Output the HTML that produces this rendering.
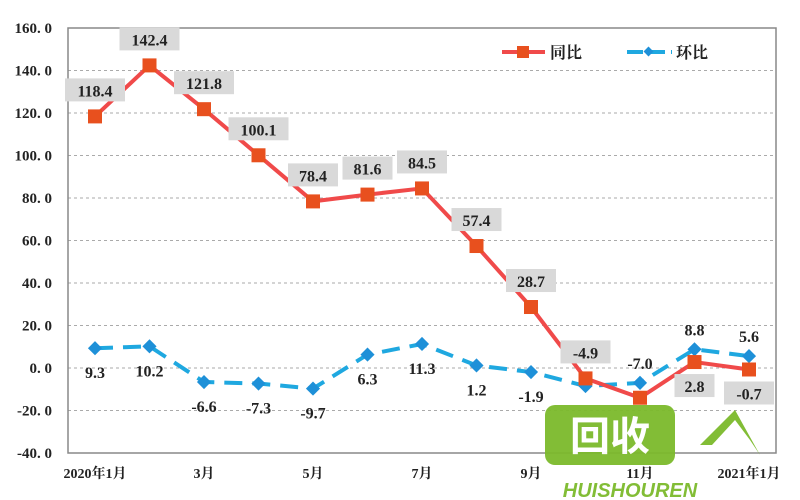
<!DOCTYPE html>
<html><head><meta charset="utf-8"><style>
body{margin:0;background:#fff}
svg{display:block;font-family:"Liberation Serif","Noto Serif CJK SC",serif}
</style></head><body>
<svg id="c" width="800" height="500"></svg>
<script>
const categories=["2020年1月","2月","3月","4月","5月","6月","7月","8月","9月","10月","11月","12月","2021年1月"];
const shownLabels=["2020年1月","","3月","","5月","","7月","","9月","","11月","","2021年1月"];
const yoy=[118.4,142.4,121.8,100.1,78.4,81.6,84.5,57.4,28.7,-4.9,-14.0,2.8,-0.7];
const yoyLabels=["118.4","142.4","121.8","100.1","78.4","81.6","84.5","57.4","28.7","-4.9","","2.8","-0.7"];
const mom=[9.3,10.2,-6.6,-7.3,-9.7,6.3,11.3,1.2,-1.9,-8.5,-7.0,8.8,5.6];
const momLabels=["9.3","10.2","-6.6","-7.3","-9.7","6.3","11.3","1.2","-1.9","","-7.0","8.8","5.6"];
const yTicks=[160,140,120,100,80,60,40,20,0,-20,-40];
const NS="http://www.w3.org/2000/svg";
const svg=document.getElementById('c');
const L=68,R=776,T=28,B=453;
const y=v=>B-(v+40)/200*(B-T);
const x=i=>95+i*54.5;
function mk(t,a,p){const e=document.createElementNS(NS,t);for(const k in a)e.setAttribute(k,a[k]);(p||svg).appendChild(e);return e;}
yTicks.forEach(v=>{
  if(v!==-40&&v!==160){const g=mk('line',{x1:L,x2:R,y1:y(v),y2:y(v),stroke:'#aaa','stroke-dasharray':'3,3','stroke-width':1});
  
  }
  const t=mk('text',{x:52,y:y(v)+5,'text-anchor':'end','font-size':15,'font-weight':'bold',fill:'#222'});t.textContent=v.toFixed(1).replace('.','. ');
  
  
});
const f=mk('rect',{x:L,y:T,width:R-L,height:B-T,fill:'none',stroke:'#888','stroke-width':1.5});


categories.forEach((c,i)=>{if(!shownLabels[i])return;
  const t=mk('text',{x:x(i),y:478,'text-anchor':'middle','font-size':14,'font-weight':'bold',fill:'#222'});t.textContent=shownLabels[i];
  
  });
const pm=mom.map((v,i)=>x(i)+','+y(v)).join(' ');
const l2=mk('polyline',{points:pm,fill:'none',stroke:'#1fa8e0','stroke-width':4,'stroke-dasharray':'18,10'});


const py=yoy.map((v,i)=>x(i)+','+y(v)).join(' ');
const l1=mk('polyline',{points:py,fill:'none',stroke:'#f04a4a','stroke-width':4});


mom.forEach((v,i)=>{const p=mk('rect',{x:x(i)-5,y:y(v)-5,width:10,height:10,fill:'#1e90d8',transform:`rotate(45 ${x(i)} ${y(v)})`});
  
  });
yoy.forEach((v,i)=>{const p=mk('rect',{x:x(i)-7,y:y(v)-7,width:14,height:14,fill:'#e8501e'});
  
  });
yoyLabels.forEach((s,i)=>{if(!s)return;
  const below=(i===11||i===12);
  const cy=below?y(yoy[i])+24:y(yoy[i])-26;
  const w=s.length*10+10;
  const bg=mk('rect',{x:x(i)-w/2,y:cy-12,width:w,height:23,fill:'#d9d9d9'});
  
  
  const t=mk('text',{x:x(i),y:cy+6,'text-anchor':'middle','font-size':16,'font-weight':'bold',fill:'#222'});t.textContent=s;
  
  
});
momLabels.forEach((s,i)=>{if(!s)return;
  const above=(i===10||i===11||i===12);
  const cy=above?y(mom[i])-20:y(mom[i])+24;
  const t=mk('text',{x:x(i),y:cy+6,'text-anchor':'middle','font-size':16,'font-weight':'bold',fill:'#222'});t.textContent=s;
  
  
});
const lg=mk('g',{});
mk('line',{x1:502,x2:545,y1:52,y2:52,stroke:'#f04a4a','stroke-width':4},lg);
mk('rect',{x:517,y:46,width:12,height:12,fill:'#e8501e'},lg);
const t1=mk('text',{x:550,y:58,'font-size':16,'font-weight':'bold',fill:'#222'},lg);t1.textContent='同比';


mk('line',{x1:627,x2:672,y1:52,y2:52,stroke:'#1fa8e0','stroke-width':4,'stroke-dasharray':'16,6'},lg);
mk('rect',{x:645,y:48,width:7,height:7,fill:'#1e90d8',transform:'rotate(45 648.5 51.5)'},lg);
const t2=mk('text',{x:676,y:58,'font-size':16,'font-weight':'bold',fill:'#222'},lg);t2.textContent='环比';


const wm=mk('g',{opacity:0.95});
mk('rect',{x:545,y:405,width:130,height:60,rx:10,fill:'#7cba2c'},wm);
const wt=mk('text',{x:610,y:450,'text-anchor':'middle','font-size':40,'font-weight':'bold',fill:'#fff','font-family':'Noto Sans CJK SC,sans-serif'},wm);wt.textContent='回收';
mk('path',{d:'M700 445 L735 410 L760 455 L750 440 L735 420 L712 445 Z',fill:'#7cba2c'},wm);
const wt2=mk('text',{x:630,y:497,'text-anchor':'middle','font-size':20,'font-weight':'bold','font-style':'italic',fill:'#7cba2c','font-family':'Liberation Sans,sans-serif'},wm);wt2.textContent='HUISHOUREN';
</script>
</body></html>
